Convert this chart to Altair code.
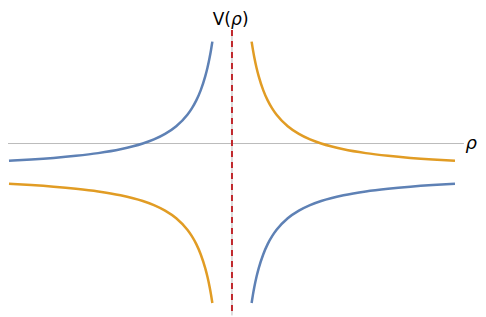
import altair as alt
import pandas as pd

# values (rho, V)
rho_left = [-5.0, -4.5, -4.0, -3.5, -3.0, -2.5, -2.0, -1.75, -1.5, -1.25, -1.0,
            -0.9, -0.8, -0.7, -0.6, -0.55, -0.5, -0.47, -0.44]
blue_left = [-0.30, -0.278, -0.25, -0.214, -0.167, -0.10, 0.0, 0.071, 0.167, 0.30, 0.50,
             0.611, 0.75, 0.929, 1.167, 1.318, 1.50, 1.628, 1.773]
orange_left = [-0.70, -0.722, -0.75, -0.786, -0.833, -0.90, -1.0, -1.071, -1.167, -1.30, -1.50,
               -1.611, -1.75, -1.929, -2.167, -2.318, -2.50, -2.628, -2.773]
rho_right = [0.44, 0.47, 0.5, 0.55, 0.6, 0.7, 0.8, 0.9, 1.0, 1.25, 1.5, 1.75, 2.0,
             2.5, 3.0, 3.5, 4.0, 4.5, 5.0]
blue_right = [-2.773, -2.628, -2.50, -2.318, -2.167, -1.929, -1.75, -1.611, -1.50, -1.30,
              -1.167, -1.071, -1.0, -0.90, -0.833, -0.786, -0.75, -0.722, -0.70]
orange_right = [1.773, 1.628, 1.50, 1.318, 1.167, 0.929, 0.75, 0.611, 0.50, 0.30, 0.167,
                0.071, 0.0, -0.10, -0.167, -0.214, -0.25, -0.278, -0.30]

x_domain = [-5.022, 5.516]
y_domain = [-3.017, 2.357]
axis_x_end = 5.2
vline_top, vline_bottom = 1.974, -2.99

rows = []
for name, xs_, ys_ in [("blue_l", rho_left, blue_left), ("orange_l", rho_left, orange_left),
                       ("blue_r", rho_right, blue_right), ("orange_r", rho_right, orange_right)]:
    for r, v in zip(xs_, ys_):
        rows.append({"branch": name, "rho": r, "V": v})
df = pd.DataFrame(rows)

xs = alt.Scale(domain=x_domain, nice=False, zero=False)
ys = alt.Scale(domain=y_domain, nice=False, zero=False)

color_scale = alt.Scale(domain=["blue_l", "blue_r", "orange_l", "orange_r"],
                        range=["#5E81B5", "#5E81B5", "#E19C24", "#E19C24"])

curves = alt.Chart(df).mark_line(strokeWidth=2.5, interpolate="monotone").encode(
    x=alt.X("rho:Q", scale=xs, axis=None),
    y=alt.Y("V:Q", scale=ys, axis=None),
    color=alt.Color("branch:N", scale=color_scale, legend=None),
    detail="branch:N",
)

hdf = pd.DataFrame({"rho": [x_domain[0]], "rho2": [axis_x_end], "V": [0.0]})
vdf = pd.DataFrame({"rho": [0.0], "V": [vline_top], "V2": [vline_bottom]})

haxis = alt.Chart(hdf).mark_rule(color="#bbbbbb", strokeWidth=1).encode(
    x=alt.X("rho:Q", scale=xs, axis=None), x2="rho2:Q",
    y=alt.Y("V:Q", scale=ys, axis=None))
vaxis = alt.Chart(vdf).mark_rule(color="#bbbbbb", strokeWidth=1).encode(
    x=alt.X("rho:Q", scale=xs, axis=None),
    y=alt.Y("V:Q", scale=ys, axis=None), y2="V2:Q")
vdash = alt.Chart(vdf).mark_rule(color="#C0282D", strokeWidth=2, strokeDash=[6, 5]).encode(
    x=alt.X("rho:Q", scale=xs, axis=None),
    y=alt.Y("V:Q", scale=ys, axis=None), y2="V2:Q")


def label(text, rho, v, align, dx=0, italic=False, size=17):
    d = pd.DataFrame({"rho": [rho], "V": [v], "t": [text]})
    kw = dict(font="DejaVu Sans", fontSize=size, color="#000000", align=align,
              baseline="alphabetic", dx=dx)
    if italic:
        kw["fontStyle"] = "italic"
    return alt.Chart(d).mark_text(**kw).encode(
        x=alt.X("rho:Q", scale=xs, axis=None), y=alt.Y("V:Q", scale=ys, axis=None),
        text="t:N")


label_v = 2.061
lab1 = label("V(", 0.0, label_v, "right", dx=-1)
lab2 = label("ρ", 0.0, label_v, "left", dx=-1, italic=True)
lab3 = label(")", 0.0, label_v, "left", dx=10)
rholabel = label("ρ", 5.49, -0.087, "right", italic=True, size=18)

chart = alt.layer(haxis, vaxis, curves, vdash, lab1, lab2, lab3, rholabel).properties(
    width=470, height=309, padding=0, autosize=alt.AutoSizeParams(type="none"),
    background="white",
).configure_view(stroke=None)

chart.save("out.html", embed_options={"renderer": "svg", "actions": False})
